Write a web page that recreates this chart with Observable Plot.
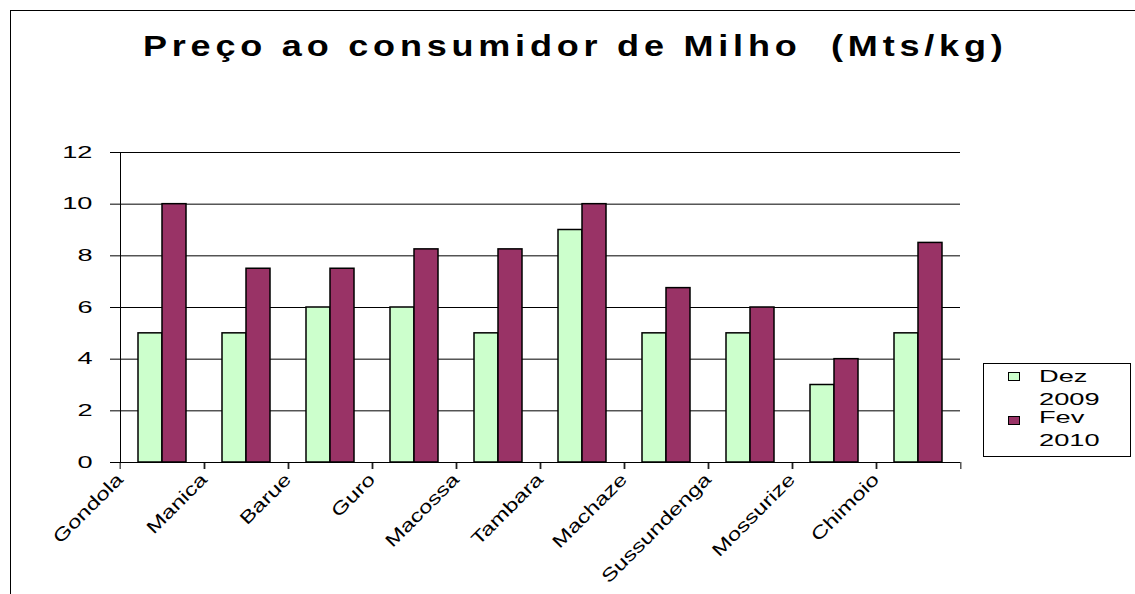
<!DOCTYPE html>
<html>
<head>
<meta charset="utf-8">
<script src="https://cdn.jsdelivr.net/npm/d3@7"></script>
<script src="https://cdn.jsdelivr.net/npm/@observablehq/plot@0.6"></script>
<style>
  html, body { margin: 0; padding: 0; background: #fff; }
  body { width: 1135px; height: 594px; overflow: hidden; position: relative; font-family: Arial, "Liberation Sans", sans-serif; }
  #border { position: absolute; left: 10px; top: 10px; width: 1200px; height: 700px; border-left: 1px solid #000; border-top: 1px solid #000; }
  #chart { position: absolute; left: 0; top: 0; }
  #title { position: absolute; left: 143px; top: 31px; font-size: 30px; line-height: 30px; font-weight: bold; letter-spacing: 4px; white-space: pre; color: #000; transform: scaleX(1.2); transform-origin: left top; }
  #legend { position: absolute; left: 983px; top: 363px; width: 146px; height: 92px; border: 1px solid #000; background: #fff; }
  .sw { position: absolute; width: 10px; height: 7px; border: 1.5px solid #000; }
  .lt { position: absolute; font-size: 16px; line-height: 16px; white-space: pre; transform: scaleX(1.7); transform-origin: left top; color: #000; }
</style>
</head>
<body>
<div id="border"></div>
<div id="chart"></div>
<div id="title"></div>
<div id="legend"></div>
<script>
const titleText = "Preço ao consumidor de Milho  (Mts/kg)";
const categories = ["Gondola", "Manica", "Barue", "Guro", "Macossa", "Tambara", "Machaze", "Sussundenga", "Mossurize", "Chimoio"];
const seriesNames = ["Dez 2009", "Fev 2010"];
const legendLines = [["Dez", "2009"], ["Fev", "2010"]];
const dez2009 = [5, 5, 6, 6, 5, 9, 5, 5, 3, 5];
const fev2010 = [10, 7.5, 7.5, 8.25, 8.25, 10, 6.75, 6, 4, 8.5];
const yTicks = [0, 2, 4, 6, 8, 10, 12];
const colors = ["#CCFFCC", "#993366"];

const rows = categories.flatMap((c, i) => [
  {cat: c, s: seriesNames[0], v: dez2009[i]},
  {cat: c, s: seriesNames[1], v: fev2010[i]}
]);

const W = 1135, H = 594, mL = 116, mR = 172, mT = 152, mB = 132;
const step = (W - mL - mR) / categories.length;

const chart = Plot.plot({
  width: W, height: H,
  marginLeft: mL, marginRight: mR, marginTop: mT, marginBottom: mB,
  style: {fontFamily: "Arial, 'Liberation Sans', sans-serif", fontSize: "16px", color: "#000", background: "transparent"},
  fx: {domain: categories, padding: 0, label: null},
  x: {domain: seriesNames, paddingInner: 0, paddingOuter: 0.73, axis: null},
  y: {domain: [0, 12], label: null},
  color: {domain: seriesNames, range: colors},
  marks: [
    Plot.gridY(yTicks, {stroke: "#000", strokeOpacity: 1, strokeWidth: 1}),
    Plot.barY(rows, {fx: "cat", x: "s", y: "v", fill: "s", stroke: "#000", strokeWidth: 1.5}),
    Plot.ruleY([0], {stroke: "#000", strokeWidth: 1}),
    Plot.frame({anchor: "left", facetAnchor: "left", stroke: "#000"}),
    Plot.axisY(yTicks, {tickSize: 10, tickPadding: 18, fontSize: 16, label: null, stroke: "#000"}),
    Plot.axisFx({anchor: "bottom", tickSize: 7, tickPadding: 7, tickRotate: -45, fontSize: 18, dx: -step / 2, label: null}),
    Plot.axisFx([categories[categories.length - 1]], {anchor: "bottom", tickSize: 7, tickFormat: () => "", dx: step / 2, label: null})
  ]
});

// widen glyphs along the baseline, as in the reference rendering
function stretch(selector, s) {
  chart.querySelectorAll(selector + " text").forEach((t) => {
    let tr = t.getAttribute("transform");
    if (!tr) {
      const x = t.getAttribute("x") || 0, y = t.getAttribute("y") || 0;
      t.removeAttribute("x"); t.removeAttribute("y");
      tr = `translate(${x},${y})`;
    }
    t.setAttribute("transform", tr + ` scale(${s},1)`);
  });
}
stretch('g[aria-label="y-axis tick label"]', 1.7);
stretch('g[aria-label="fx-axis tick label"]', 1.33);

document.getElementById("chart").appendChild(chart);
document.getElementById("title").textContent = titleText;

const legend = document.getElementById("legend");
const swTops = [8, 52];
const lineTops = [[5, 28], [46, 69]];
legendLines.forEach((lines, i) => {
  const sw = document.createElement("div");
  sw.className = "sw";
  sw.style.left = "24px";
  sw.style.top = swTops[i] + "px";
  sw.style.background = colors[i];
  legend.appendChild(sw);
  lines.forEach((t, j) => {
    const el = document.createElement("div");
    el.className = "lt";
    el.style.left = "55px";
    el.style.top = lineTops[i][j] + "px";
    el.textContent = t;
    legend.appendChild(el);
  });
});
</script>
</body>
</html>
